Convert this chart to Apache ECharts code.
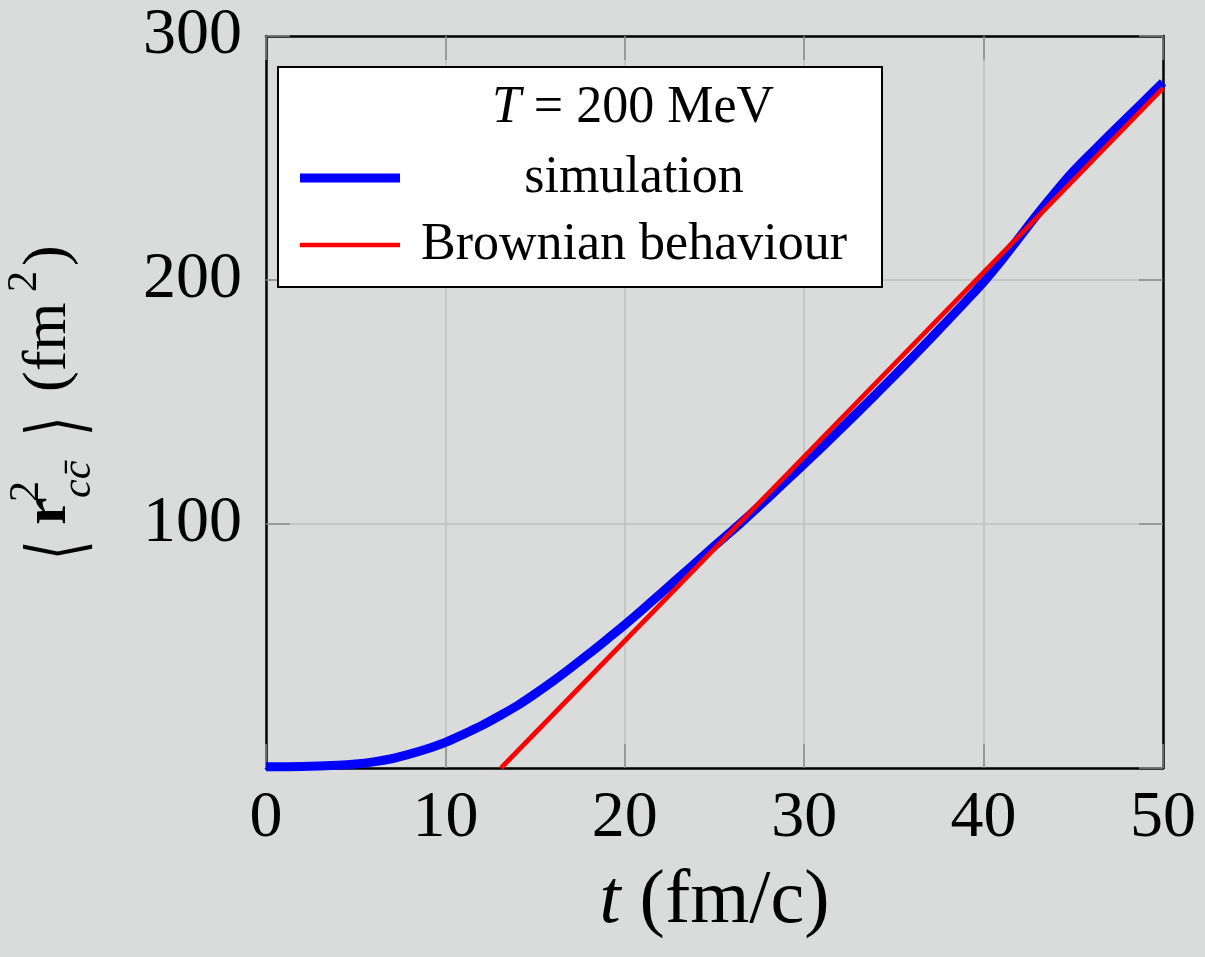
<!DOCTYPE html>
<html>
<head>
<meta charset="utf-8">
<script src="https://cdn.jsdelivr.net/npm/echarts@6/dist/echarts.min.js"></script>
<style>
html,body{margin:0;padding:0;background:#dadcdb;}
#chart{width:1205px;height:957px;}
</style>
</head>
<body>
<div id="chart"></div>
<script>
// ---- data ----
const tValues = [0,2,4,5,6,7,8,9,10,11,12,13,14,15,16,17,18,19,20,21,22,23,24,25,26,27,28,29,30,31,32,33,34,35,36,37,38,39,40,41,42,43,44,45,46,47,48,49,50];
const simValues = [0.5,0.6,1.1,1.6,2.5,3.8,5.7,7.9,10.5,13.8,17.3,21.3,25.5,30.4,35.6,41.1,46.8,52.7,58.7,65,71.5,78,84.5,91,97.4,104,110.8,117.7,124.6,131.6,138.7,145.9,153.2,160.6,168.1,175.7,183.4,191.2,199.2,208,217.5,227,236,244.5,252,259.3,266.5,273.7,281];
const brownT = [13.1, 50];
const brownValues = [0, 278.6];
const xTicks = [0,10,20,30,40,50];
const yTicks = [100,200,300];
const seriesNames = ['simulation','Brownian behaviour'];

const FONT = "'Liberation Serif','DejaVu Serif',serif";
const simData = tValues.map((t,i)=>[t, simValues[i]]);
const brownData = brownT.map((t,i)=>[t, brownValues[i]]);

const chart = echarts.init(document.getElementById('chart'), null, {renderer:'canvas'});

const tickStyle = {show:true, inside:true, length:24, lineStyle:{color:'#8c8c8c', width:1.5}};
const splitStyle = {show:true, lineStyle:{color:'#bfbfbf', width:1.5}};
const frameLine = {show:true, onZero:false, lineStyle:{color:'#000', width:2.5}};

const yTitleFont = 62, supFont = 42;
const BRFONT = "'DejaVu Serif','DejaVu Sans',serif";
const yTitle = {
  type:'group', x:70, y:560, rotation:Math.PI/2, z:100,
  children:[
    {type:'text', x:0, y:-8, scaleX:0.8, scaleY:1.25, style:{text:'\u27E8', fontSize:yTitleFont, fontFamily:BRFONT, fill:'#000', align:'left', verticalAlign:'middle'}},
    {type:'text', x:35, y:-21, style:{text:'r', fontSize:yTitleFont, fontWeight:'bold', fontFamily:FONT, fill:'#000', align:'left', verticalAlign:'middle'}},
    {type:'text', x:58, y:-43, style:{text:'2', fontSize:supFont, fontFamily:FONT, fill:'#000', align:'left', verticalAlign:'middle'}},
    {type:'text', x:62, y:9, style:{text:'c\u0063\u0304', fontSize:supFont, fontStyle:'italic', fontFamily:FONT, fill:'#000', align:'left', verticalAlign:'middle'}},
    {type:'text', x:124, y:-8, scaleX:0.8, scaleY:1.25, style:{text:'\u27E9', fontSize:yTitleFont, fontFamily:BRFONT, fill:'#000', align:'left', verticalAlign:'middle'}},
    {type:'text', x:168, y:-21, style:{text:'(fm', fontSize:yTitleFont, fontFamily:FONT, fill:'#000', align:'left', verticalAlign:'middle'}},
    {type:'text', x:268, y:-45, style:{text:'2', fontSize:supFont, fontFamily:FONT, fill:'#000', align:'left', verticalAlign:'middle'}},
    {type:'text', x:294, y:-21, style:{text:')', fontSize:yTitleFont, fontFamily:FONT, fill:'#000', align:'left', verticalAlign:'middle'}}
  ]
};

const option = {
  backgroundColor:'#dadcdb',
  animation:false,
  grid:{left:266, right:42, top:36, bottom:189, show:false, containLabel:false},
  xAxis:[
    {type:'value', min:0, max:50, interval:10, position:'bottom',
     axisLine:frameLine, axisTick:tickStyle, splitLine:splitStyle,
     axisLabel:{fontSize:66, fontFamily:FONT, color:'#000', margin:18, showMinLabel:true, showMaxLabel:true,
       formatter:v=> xTicks.includes(v) ? String(v) : ''},
     name:'{i|t} (fm/c)', nameLocation:'middle', nameGap:96,
     nameTextStyle:{fontSize:76, fontFamily:FONT, color:'#000', rich:{i:{fontSize:76, fontFamily:FONT, fontStyle:'italic', color:'#000'}}}},
    {type:'value', min:0, max:50, interval:10, position:'top',
     axisLine:frameLine, axisTick:tickStyle, splitLine:{show:false}, axisLabel:{show:false}}
  ],
  yAxis:[
    {type:'value', min:0, max:300, interval:100, position:'left',
     axisLine:frameLine, axisTick:tickStyle, splitLine:splitStyle,
     axisLabel:{fontSize:66, fontFamily:FONT, color:'#000', margin:24, formatter:v=> yTicks.includes(v) ? String(v) : ''}},
    {type:'value', min:0, max:300, interval:100, position:'right',
     axisLine:frameLine, axisTick:tickStyle, splitLine:{show:false}, axisLabel:{show:false}}
  ],
  legend:{
    orient:'vertical', left:278, top:67, padding:[85,35,16,22],
    itemWidth:100, itemHeight:50, itemGap:15, symbolKeepAspect:true,
    backgroundColor:'#fff', borderColor:'#000', borderWidth:2, borderRadius:0,
    data:[
      {name:seriesNames[0], icon:'path://M0,0H100V9H0Z'},
      {name:seriesNames[1], icon:'path://M0,0H100V4.7H0Z'}
    ],
    formatter:n=>'{c|'+n+'}',
    textStyle:{fontSize:52, fontFamily:FONT, color:'#000', rich:{c:{width:458, align:'center', fontSize:52, fontFamily:FONT, color:'#000'}}}
  },
  graphic:[
    {type:'text', x:633, y:108, z:100, style:{text:'{i|T} = 200 MeV', align:'center', verticalAlign:'middle', fontSize:52, fontFamily:FONT, fill:'#000',
      rich:{i:{fontSize:52, fontFamily:FONT, fontStyle:'italic', color:'#000'}}}},
    yTitle
  ],
  series:[
    {name:seriesNames[0], type:'line', data:simData, smooth:0.3, symbol:'none', clip:true,
     lineStyle:{color:'#0000ff', width:9}, itemStyle:{color:'#0000ff'}, z:2},
    {name:seriesNames[1], type:'line', data:brownData, symbol:'none', clip:true,
     lineStyle:{color:'#ff0000', width:4.7}, itemStyle:{color:'#ff0000'}, z:3}
  ]
};
chart.setOption(option);
</script>
</body>
</html>
